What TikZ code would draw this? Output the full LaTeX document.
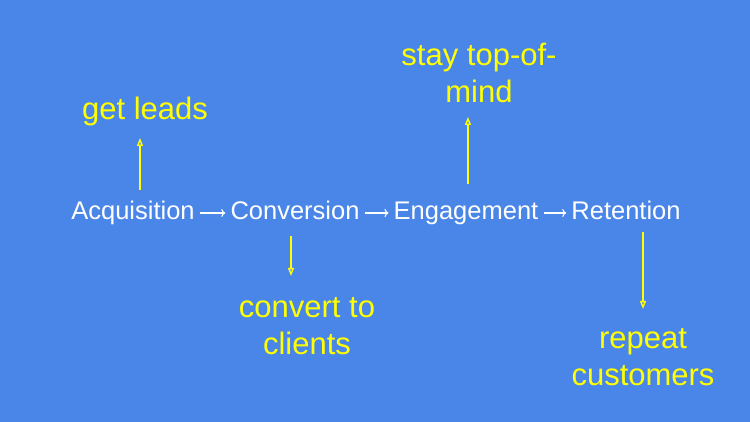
\documentclass[tikz,border=0pt]{standalone}
\usepackage{fontspec}
\setmainfont{Liberation Sans}
\usepackage{tikz}
\usetikzlibrary{arrows.meta, calc, positioning}
\usepackage{xcolor}
\definecolor{slideblue}{HTML}{4A86E8}
\definecolor{goalyellow}{HTML}{FFFF00}

\tikzset{
    stage/.style={text=white, font=\fontsize{25.5}{30}\selectfont, text height=18pt, text depth=4pt, inner xsep=5pt, inner ysep=12pt},
    goal/.style={text=goalyellow, font=\fontsize{31}{37}\selectfont, align=center, inner sep=0pt},
    flow/.style={white, line width=1.1pt, -{To[length=4pt,width=8pt]}},
    lift/.style={goalyellow, line width=1.4pt, -{Triangle[open,length=8pt,width=6pt]}},
}

\begin{document}
\begin{tikzpicture}[x=1pt, y=1pt]
    % 背景
    \fill[slideblue] (0,0) rectangle (750,422);
    \useasboundingbox (0,0) rectangle (750,422);

    % 阶段
    \node[stage] (acq)  at (133,209) {Acquisition};
    \node[stage] (conv) at (295,209) {Conversion};
    \node[stage] (eng)  at (466,209) {Engagement};
    \node[stage] (ret)  at (626,209) {Retention};

    \draw[flow] (acq) -- (conv);
    \draw[flow] (conv) -- (eng);
    \draw[flow] (eng) -- (ret);

    % 目标
    \node[goal, anchor=south] (leads)  at (145,296) {get leads};
    \node[goal, anchor=south] (mind)   at (479,319) {stay top-of-\\mind};
    \node[goal, anchor=north] (client) at (307,125) {convert to\\clients};
    \node[goal, anchor=north] (repeat) at (643,94)  {repeat\\customers};

    \draw[lift, shorten >=12pt] ([xshift=7pt]acq.north) -- ([xshift=7pt]acq.north |- leads.south);
    \draw[lift, shorten <=6pt, shorten >=14pt] ([xshift=2pt]eng.north) -- ([xshift=2pt]eng.north |- mind.south);
    \draw[lift, shorten >=21pt] ([xshift=-4pt]conv.south) -- ([xshift=-4pt]conv.south |- client.north);
    \draw[lift, shorten <=-4pt, shorten >=19pt] ([xshift=17pt]ret.south) -- ([xshift=17pt]ret.south |- repeat.north);
\end{tikzpicture}
\end{document}
